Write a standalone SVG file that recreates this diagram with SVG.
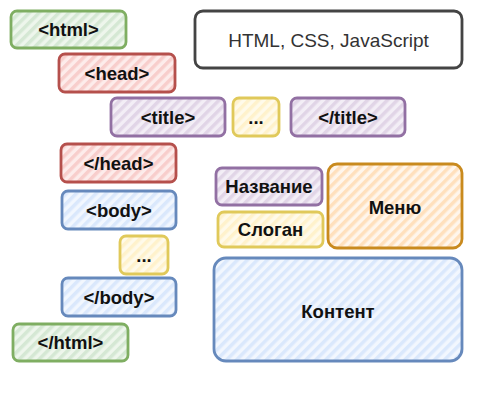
<svg xmlns="http://www.w3.org/2000/svg" width="500" height="400" viewBox="0 0 500 400">
<defs>
<pattern id="pg" patternUnits="userSpaceOnUse" width="7" height="7" patternTransform="rotate(45)"><rect width="7" height="7" fill="#eef6ec"/><rect width="3.5" height="7" fill="#d5e8d4"/></pattern>
<pattern id="pr" patternUnits="userSpaceOnUse" width="7" height="7" patternTransform="rotate(45)"><rect width="7" height="7" fill="#fdeceb"/><rect width="3.5" height="7" fill="#f8cecc"/></pattern>
<pattern id="pp" patternUnits="userSpaceOnUse" width="7" height="7" patternTransform="rotate(45)"><rect width="7" height="7" fill="#f3eef6"/><rect width="3.5" height="7" fill="#e1d5e7"/></pattern>
<pattern id="py" patternUnits="userSpaceOnUse" width="7" height="7" patternTransform="rotate(45)"><rect width="7" height="7" fill="#fffaea"/><rect width="3.5" height="7" fill="#fff2cc"/></pattern>
<pattern id="pb" patternUnits="userSpaceOnUse" width="7" height="7" patternTransform="rotate(45)"><rect width="7" height="7" fill="#f2f7fe"/><rect width="3.5" height="7" fill="#dae8fc"/></pattern>
<pattern id="po" patternUnits="userSpaceOnUse" width="7" height="7" patternTransform="rotate(45)"><rect width="7" height="7" fill="#fff6ec"/><rect width="3.5" height="7" fill="#ffe0bd"/></pattern>
</defs>
<style>
rect.b{stroke-width:2.8;}
.g{fill:url(#pg);stroke:#7fae62;}
.r{fill:url(#pr);stroke:#b5504c;}
.p{fill:url(#pp);stroke:#9270a3;}
.y{fill:url(#py);stroke:#e0c95a;}
.bl{fill:url(#pb);stroke:#6689bc;}
.o{fill:url(#po);stroke:#c98a1e;}
.k{fill:#ffffff;stroke:#444444;}
text{font-family:"Liberation Sans",Arial,sans-serif;font-size:18.5px;font-weight:bold;fill:#111111;text-anchor:middle;dominant-baseline:central;}
text.n{font-weight:normal;font-size:19px;fill:#333333;}
</style>
<rect width="500" height="400" fill="#ffffff"/>
<g id="html-open"><rect class="b g" x="11" y="11" width="115" height="37" rx="6"/><text x="68.5" y="29.5">&lt;html&gt;</text></g>
<g id="head-open"><rect class="b r" x="59" y="54" width="116" height="38" rx="6"/><text x="117" y="73">&lt;head&gt;</text></g>
<g id="title-open"><rect class="b p" x="111" y="98" width="114" height="38" rx="6"/><text x="168" y="117">&lt;title&gt;</text></g>
<g id="title-dots"><rect class="b y" x="233" y="98" width="46" height="38" rx="6"/><text x="256" y="117">...</text></g>
<g id="title-close"><rect class="b p" x="291" y="98" width="114" height="38" rx="6"/><text x="348" y="117">&lt;/title&gt;</text></g>
<g id="tech"><rect class="b k" x="195" y="11" width="267" height="57" rx="8"/><text class="n" x="328.5" y="40">HTML, CSS, JavaScript</text></g>
<g id="head-close"><rect class="b r" x="61" y="144" width="115" height="38" rx="6"/><text x="118.5" y="163">&lt;/head&gt;</text></g>
<g id="body-open"><rect class="b bl" x="62" y="191" width="114" height="38" rx="6"/><text x="119" y="210">&lt;body&gt;</text></g>
<g id="body-dots"><rect class="b y" x="120" y="236" width="48" height="38" rx="6"/><text x="144" y="255">...</text></g>
<g id="body-close"><rect class="b bl" x="62" y="278" width="114" height="38" rx="6"/><text x="119" y="297">&lt;/body&gt;</text></g>
<g id="html-close"><rect class="b g" x="13" y="324" width="115" height="37" rx="6"/><text x="70.5" y="342.5">&lt;/html&gt;</text></g>
<g id="nazvanie"><rect class="b p" x="216" y="168" width="106" height="37" rx="6"/><text x="269" y="186.5">Название</text></g>
<g id="slogan"><rect class="b y" x="218" y="212" width="105" height="35" rx="6"/><text x="270.5" y="229.5">Слоган</text></g>
<g id="menu"><rect class="b o" x="328" y="164" width="134" height="84" rx="9"/><text x="395" y="207">Меню</text></g>
<g id="content"><rect class="b bl" x="214" y="258" width="248" height="103" rx="12"/><text x="338" y="311">Контент</text></g>
<g id="connectors"></g>
</svg>
